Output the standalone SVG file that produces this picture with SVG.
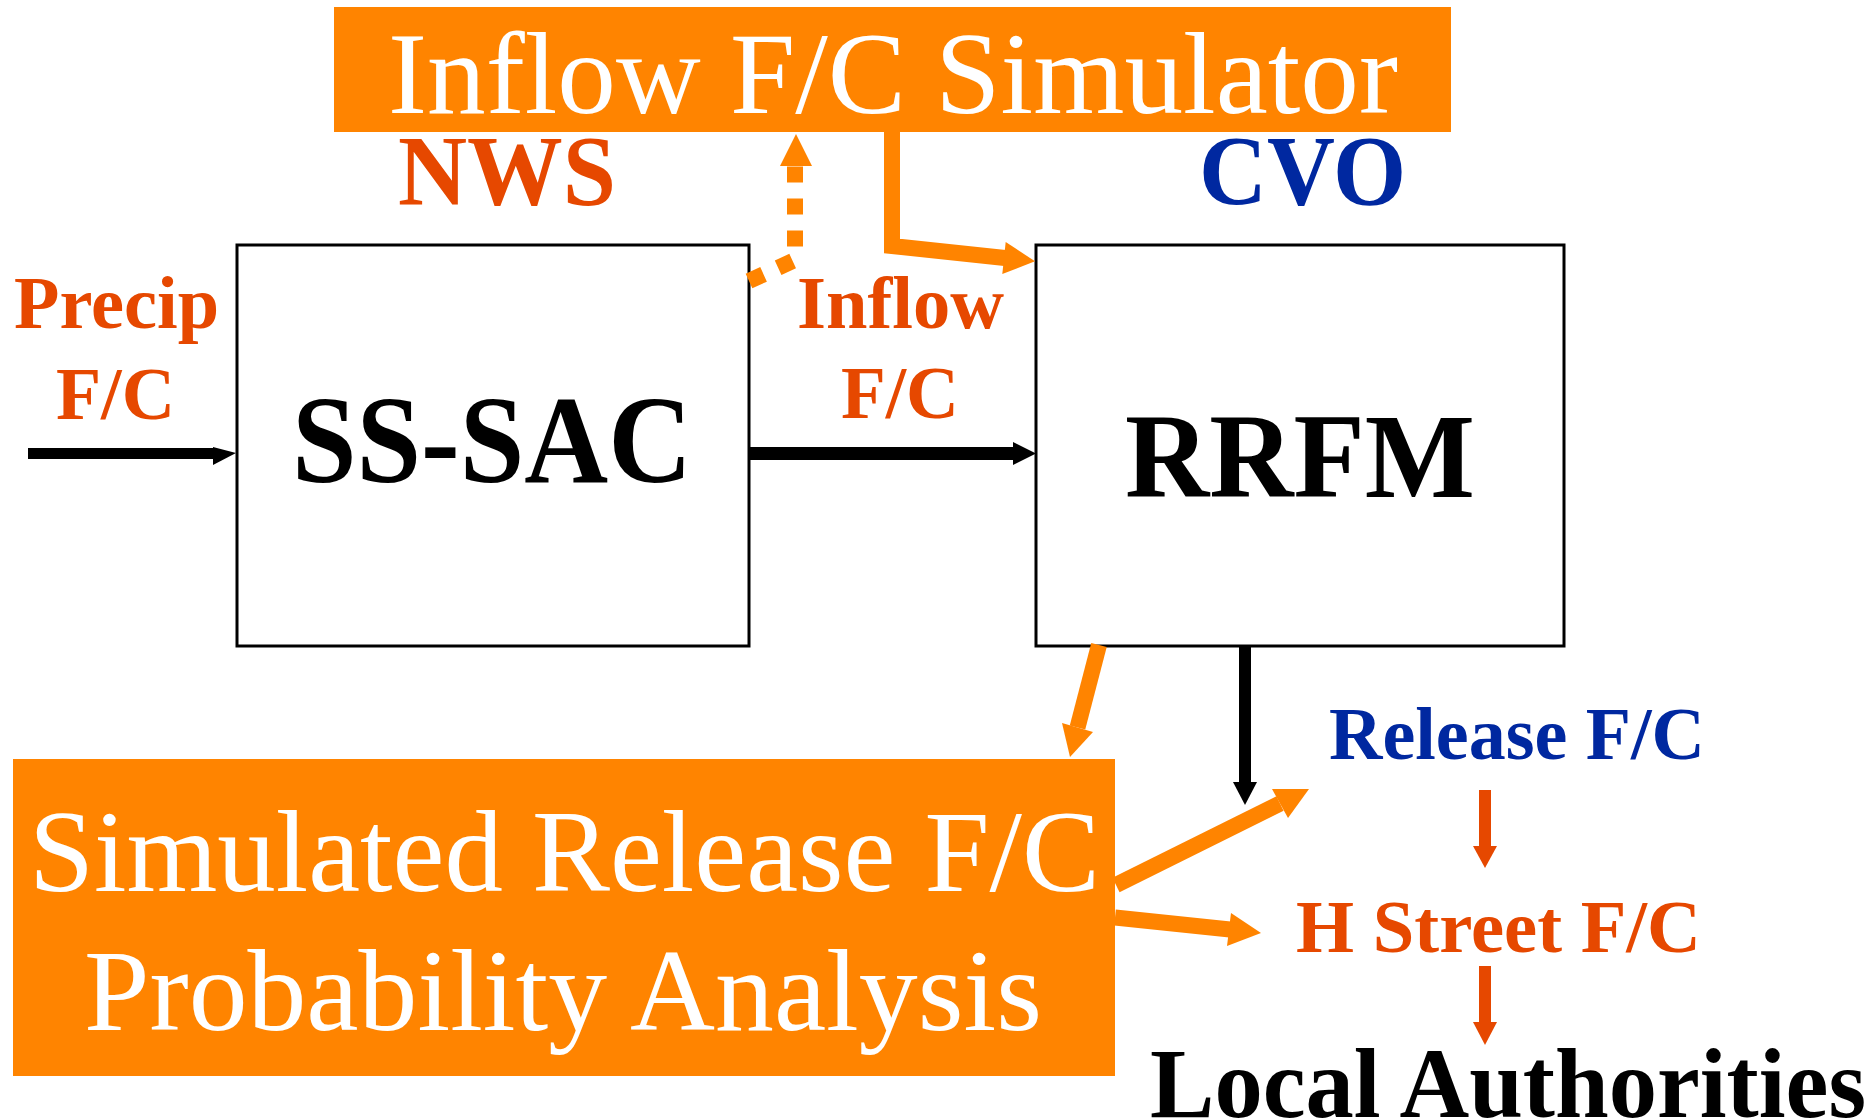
<svg xmlns="http://www.w3.org/2000/svg" width="1875" height="1119" viewBox="0 0 1875 1119">
<style>
.box{fill:#fff;stroke:#000;stroke-width:3}
.obox{fill:#FF8400}
.wt{font-family:"Liberation Serif","Times New Roman",serif;fill:#fff}
.bt{font-family:"Liberation Serif","Times New Roman",serif;font-weight:bold}
.red{fill:#E64800}
.blue{fill:#0028A0}
.blk{fill:#000}
.or{fill:#FF8400}
.osh{fill:none;stroke:#FF8400;stroke-width:16}
</style>
<rect width="1875" height="1119" fill="#fff"/>
<g id="inflow-simulator">
<rect class="obox" x="334" y="7" width="1117" height="125"/>
<text class="wt" x="388" y="113" font-size="116" textLength="1010" lengthAdjust="spacingAndGlyphs">Inflow F/C Simulator</text>
</g>
<g id="nws-label"><text class="bt red" x="398" y="204" font-size="100" textLength="218" lengthAdjust="spacingAndGlyphs">NWS</text></g>
<g id="cvo-label"><text class="bt blue" x="1199" y="204" font-size="100" textLength="207" lengthAdjust="spacingAndGlyphs">CVO</text></g>
<g id="precip-label">
<text class="bt red" x="14" y="328" font-size="75" textLength="205" lengthAdjust="spacingAndGlyphs">Precip</text>
<text class="bt red" x="56" y="419" font-size="75" textLength="119" lengthAdjust="spacingAndGlyphs">F/C</text>
</g>
<g id="inflow-label">
<text class="bt red" x="797" y="328" font-size="75" textLength="207" lengthAdjust="spacingAndGlyphs">Inflow</text>
<text class="bt red" x="841" y="418" font-size="75" textLength="118" lengthAdjust="spacingAndGlyphs">F/C</text>
</g>
<g id="ss-sac">
<rect class="box" x="237" y="245" width="512" height="401"/>
<text class="bt blk" x="292" y="482" font-size="124" textLength="400" lengthAdjust="spacingAndGlyphs">SS-SAC</text>
</g>
<g id="rrfm">
<rect class="box" x="1036" y="245" width="528" height="401"/>
<text class="bt blk" x="1125" y="497" font-size="120" textLength="350" lengthAdjust="spacingAndGlyphs">RRFM</text>
</g>
<g id="simulated-release">
<rect class="obox" x="13" y="759" width="1102" height="317"/>
<text class="wt" x="29" y="891" font-size="117" textLength="1071" lengthAdjust="spacingAndGlyphs">Simulated Release F/C</text>
<text class="wt" x="84" y="1030" font-size="117" textLength="958" lengthAdjust="spacingAndGlyphs">Probability Analysis</text>
</g>
<g id="release-fc"><text class="bt blue" x="1329" y="759" font-size="75" textLength="376" lengthAdjust="spacingAndGlyphs">Release F/C</text></g>
<g id="h-street-fc"><text class="bt red" x="1296" y="952" font-size="75" textLength="405" lengthAdjust="spacingAndGlyphs">H Street F/C</text></g>
<g id="local-authorities"><text class="bt blk" x="1150" y="1117" font-size="100" textLength="716" lengthAdjust="spacingAndGlyphs">Local Authorities</text></g>
<g id="connectors">
<!-- precip -> SS-SAC -->
<rect class="blk" x="28" y="448" width="187" height="11"/>
<polygon class="blk" points="213,447 236,453 213,465"/>
<!-- SS-SAC -> RRFM -->
<rect class="blk" x="749" y="447" width="266" height="13"/>
<polygon class="blk" points="1013,442 1036,453.5 1013,465"/>
<!-- SS-SAC -> Inflow simulator (dashed) -->
<path d="M749 281 L795 260 L795 166" fill="none" stroke="#FF8400" stroke-width="16" stroke-dasharray="16 16"/>
<polygon class="or" points="780,166 796,134 812,166"/>
<!-- Inflow simulator -> RRFM -->
<path class="osh" d="M892 132 L892 246 L1005 258" stroke-linejoin="miter"/>
<polygon class="or" points="1005.7,242 1035,261.3 1002.3,274"/>
<!-- RRFM -> Simulated -->
<path class="osh" d="M1099 645 L1077.5 727.5" stroke-width="14"/>
<polygon class="or" points="1062,723 1070,757 1093,732"/>
<!-- RRFM -> Release (black) -->
<rect class="blk" x="1239" y="645" width="12" height="138"/>
<polygon class="blk" points="1233,782 1257,782 1245,805"/>
<!-- Simulated -> Release F/C -->
<path class="osh" d="M1116 885 L1280 803.5" stroke-width="15"/>
<polygon class="or" points="1272,789 1309,789 1288,818"/>
<!-- Simulated -> H Street -->
<path class="osh" d="M1115 917.5 L1230 929.5" stroke-width="15"/>
<polygon class="or" points="1231,913 1261,933 1227,946"/>
<!-- Release -> H Street -->
<rect class="red" x="1479" y="790" width="12" height="57"/>
<polygon class="red" points="1473,846 1497,846 1485,868"/>
<!-- H Street -> Local -->
<rect class="red" x="1479" y="966" width="12" height="57"/>
<polygon class="red" points="1473,1022 1497,1022 1485,1045"/>
</g>
</svg>
